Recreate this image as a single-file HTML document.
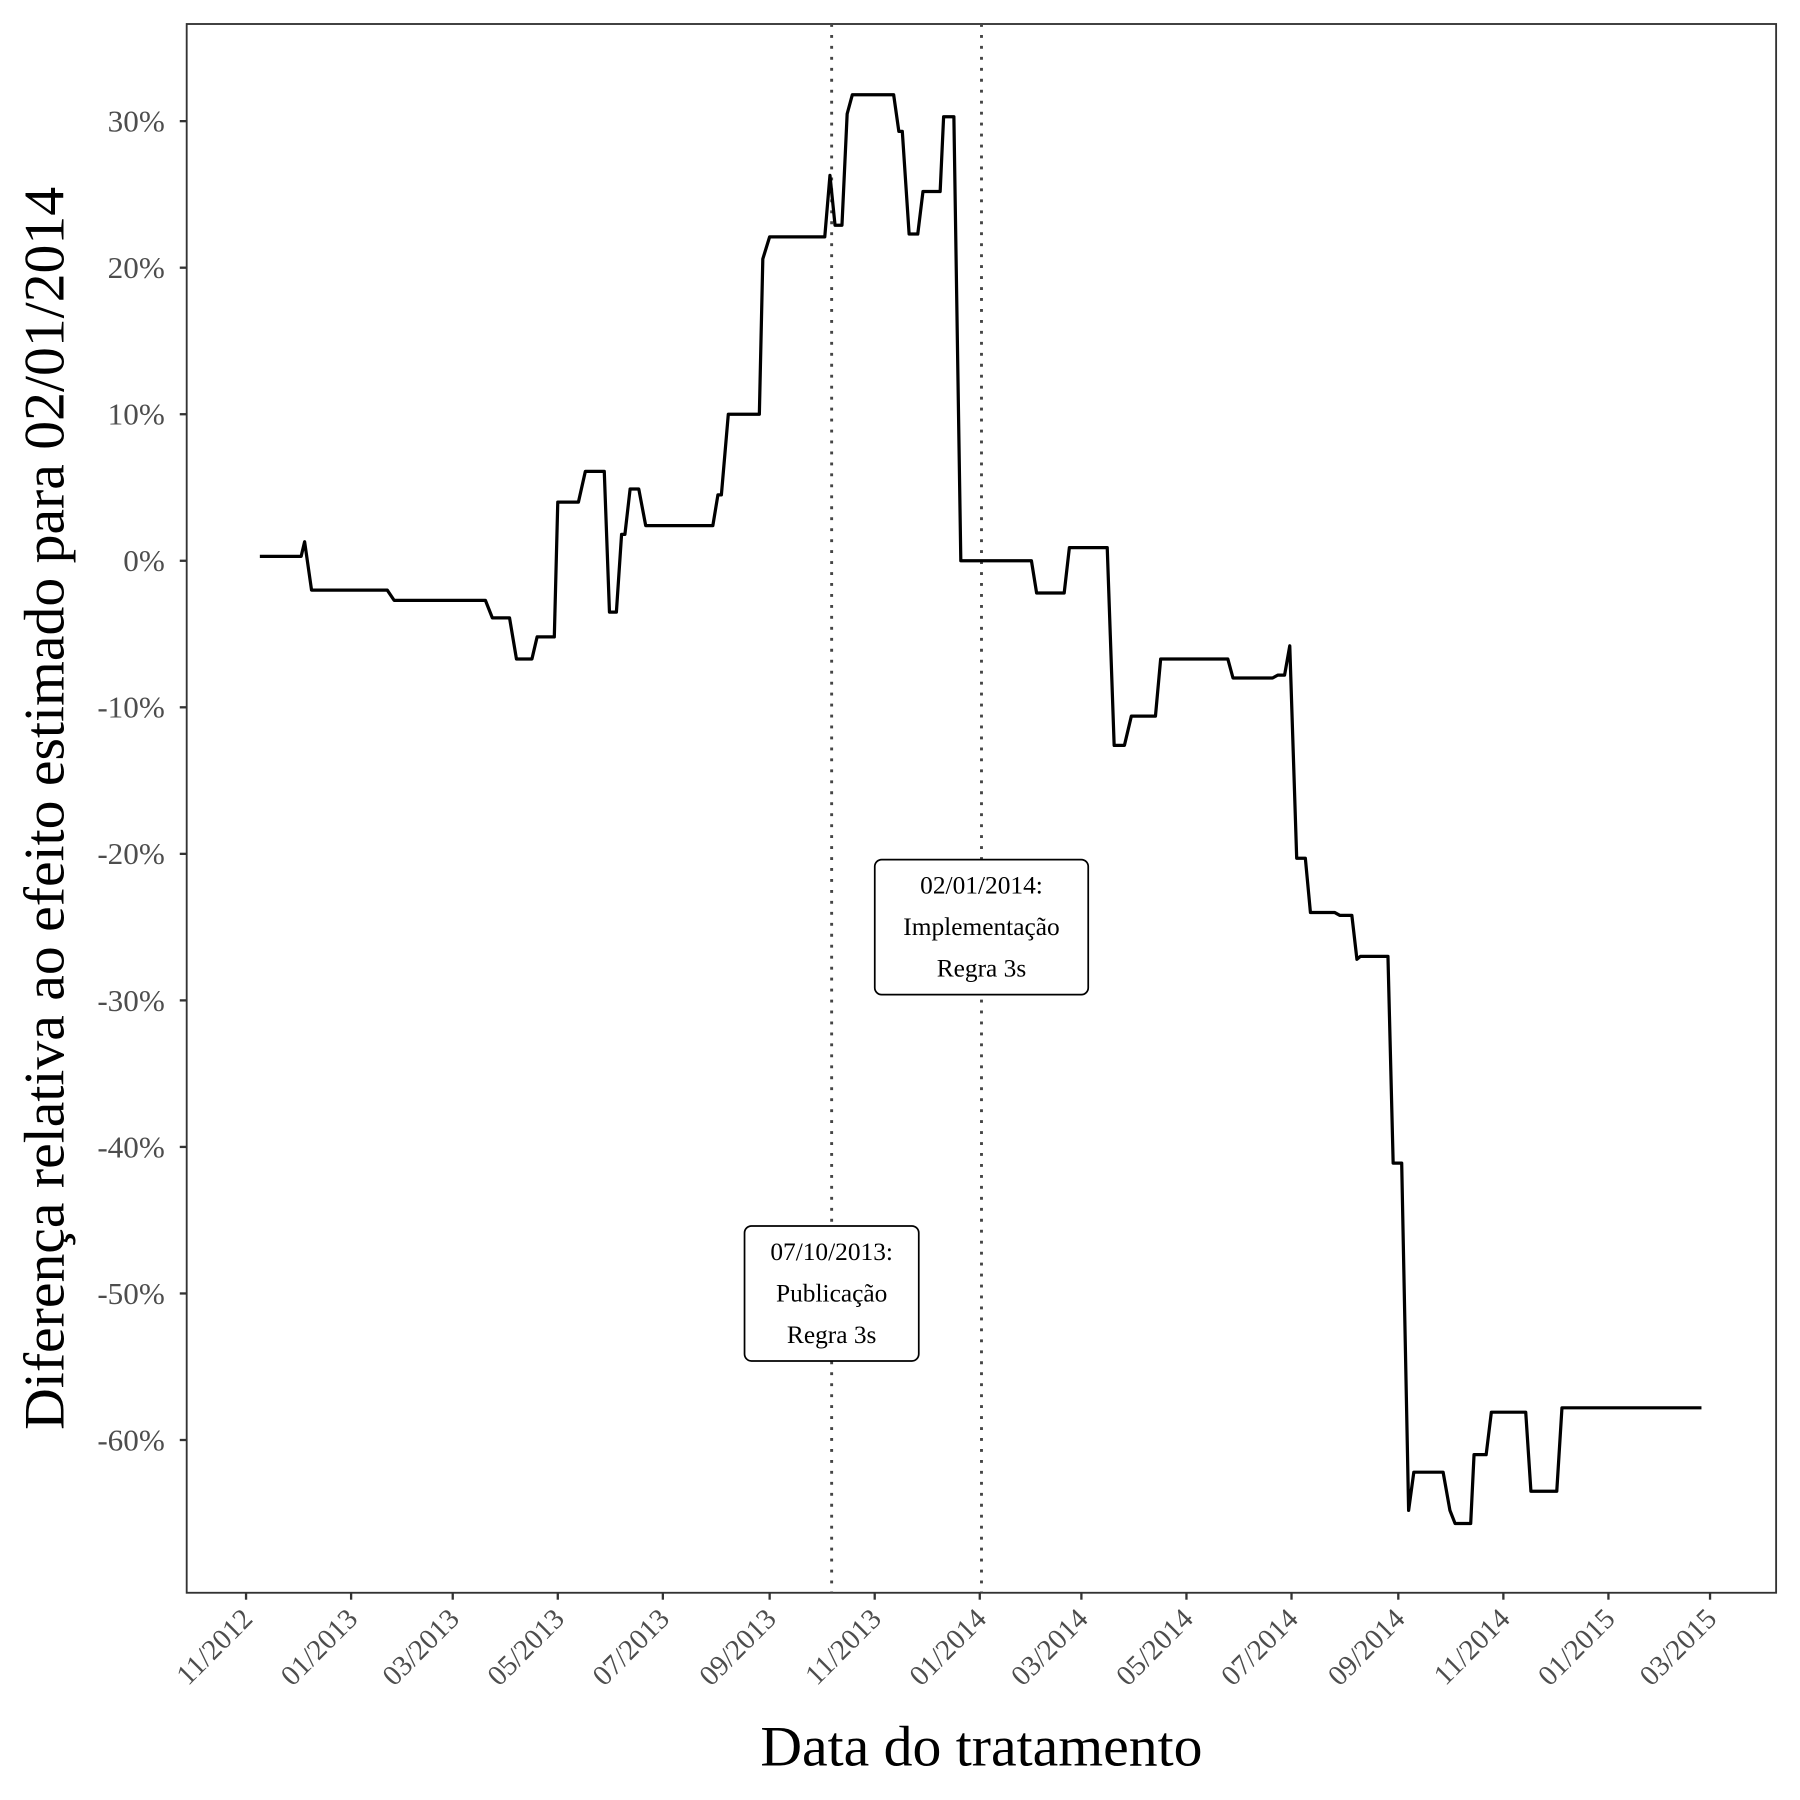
<!DOCTYPE html>
<html><head><meta charset="utf-8"><style>
html,body{margin:0;padding:0;background:#fff}
svg{display:block}
text{font-family:"Liberation Serif",serif}
</style></head><body>
<svg id="chart" width="1800" height="1800" viewBox="0 0 1560 1560">
<rect x="0" y="0" width="1560" height="1560" fill="#fff"/>
<g id="plot"></g>
</svg>
<script>
const days = [-53,-29,-27,-23,21,25,78,82,92,96,105,108,118,120,132,136,147,150,154,157,159,162,167,171,210,213,215,219,237,239,243,275,278,281,285,288,291,315,318,320,324,329,332,342,344,350,354,395,398,414,417,439,443,449,453,467,470,509,512,535,538,542,545,549,554,557,571,574,581,584,586,602,605,610,614,617,634,638,641,650,652,659,662,682,685,700,703,784];
const values = [0.3,0.3,1.3,-2.0,-2.0,-2.7,-2.7,-3.9,-3.9,-6.7,-6.7,-5.2,-5.2,4.0,4.0,6.1,6.1,-3.5,-3.5,1.8,1.8,4.9,4.9,2.4,2.4,4.5,4.5,10.0,10.0,20.6,22.1,22.1,26.3,22.9,22.9,30.5,31.8,31.8,29.3,29.3,22.3,22.3,25.2,25.2,30.3,30.3,0,0,-2.2,-2.2,0.9,0.9,-12.6,-12.6,-10.6,-10.6,-6.7,-6.7,-8.0,-8.0,-7.8,-7.8,-5.8,-20.3,-20.3,-24.0,-24.0,-24.2,-24.2,-27.2,-27.0,-27.0,-41.1,-41.1,-64.8,-62.2,-62.2,-64.8,-65.7,-65.7,-61.0,-61.0,-58.1,-58.1,-63.5,-63.5,-57.8,-57.8];
const yTicks = [30,20,10,0,-10,-20,-30,-40,-50,-60];
const xTickLabels = ["11/2012","01/2013","03/2013","05/2013","07/2013","09/2013","11/2013","01/2014","03/2014","05/2014","07/2014","09/2014","11/2014","01/2015","03/2015"];
const xTickDays = [-61,0,59,120,181,243,304,365,424,485,546,608,669,730,789];
const eventDays = [279,366];
const eventLabels = [["07/10/2013:","Publicação","Regra 3s"],["02/01/2014:","Implementação","Regra 3s"]];
const eventLabelY = [-50,-25];

const L=161.8,R=1539.3,T=20.8,B=1380.4;
const x = d => 304.3 + d*1.4927;
const y = v => 486 - v*12.70;
const ns="http://www.w3.org/2000/svg";
const g=document.getElementById('plot');
function mk(tag,attrs,parent){const e=document.createElementNS(ns,tag);for(const k in attrs)e.setAttribute(k,attrs[k]);(parent||g).appendChild(e);return e;}

const frame=mk('rect',{x:L,y:T,width:R-L,height:B-T,fill:'none',stroke:'#333',"stroke-width":1.6});



yTicks.forEach(v=>{
  const t=mk('line',{x1:L-6,x2:L,y1:y(v),y2:y(v),stroke:'#333',"stroke-width":2});
  
  
  const lb=mk('text',{x:L-19,y:y(v)+9,"text-anchor":"end","font-size":27,fill:'#4d4d4d'});
  lb.textContent=v+'%';
  
  
});
xTickDays.forEach((d,i)=>{
  const t=mk('line',{x1:x(d),x2:x(d),y1:B,y2:B+6,stroke:'#333',"stroke-width":2});
  
  
  const lb=mk('text',{x:0,y:0,"text-anchor":"end","font-size":25,fill:'#4d4d4d',transform:`translate(${x(d)+7},${B+24}) rotate(-45)`});
  lb.textContent=xTickLabels[i];
  
  
});
eventDays.forEach(d=>{
  const l=mk('line',{x1:x(d),x2:x(d),y1:T,y2:B,stroke:'#444',"stroke-width":2.5,"stroke-dasharray":"2.5,7"});
  
  
});
let pts=days.map((d,i)=>x(d).toFixed(1)+','+y(values[i]).toFixed(1)).join(' ');
const line=mk('polyline',{points:pts,fill:'none',stroke:'#000',"stroke-width":2.8,"stroke-linejoin":"round"});



eventDays.forEach((d,i)=>{
  const lines=eventLabels[i];
  const w= i==0?151:185, h=117;
  const cx=x(d), cy=y(eventLabelY[i]);
  const bx=mk('rect',{x:cx-w/2,y:cy-h/2,width:w,height:h,rx:6,fill:'#fff',stroke:'#000',"stroke-width":1.5});
  
  
  lines.forEach((s,j)=>{
    const t=mk('text',{x:cx,y:cy-36+j*36+7,"text-anchor":"middle","font-size":22,fill:'#000'});
    t.textContent=s;
    
    
  });
});
const xt=mk('text',{x:(L+R)/2,y:1530,"text-anchor":"middle","font-size":50,fill:'#000'});
xt.textContent='Data do tratamento';


const yt=mk('text',{x:0,y:0,"text-anchor":"middle","font-size":50,fill:'#000',transform:`translate(55,${(T+B)/2}) rotate(-90)`});
yt.textContent='Diferença relativa ao efeito estimado para 02/01/2014';


</script>
</body></html>
